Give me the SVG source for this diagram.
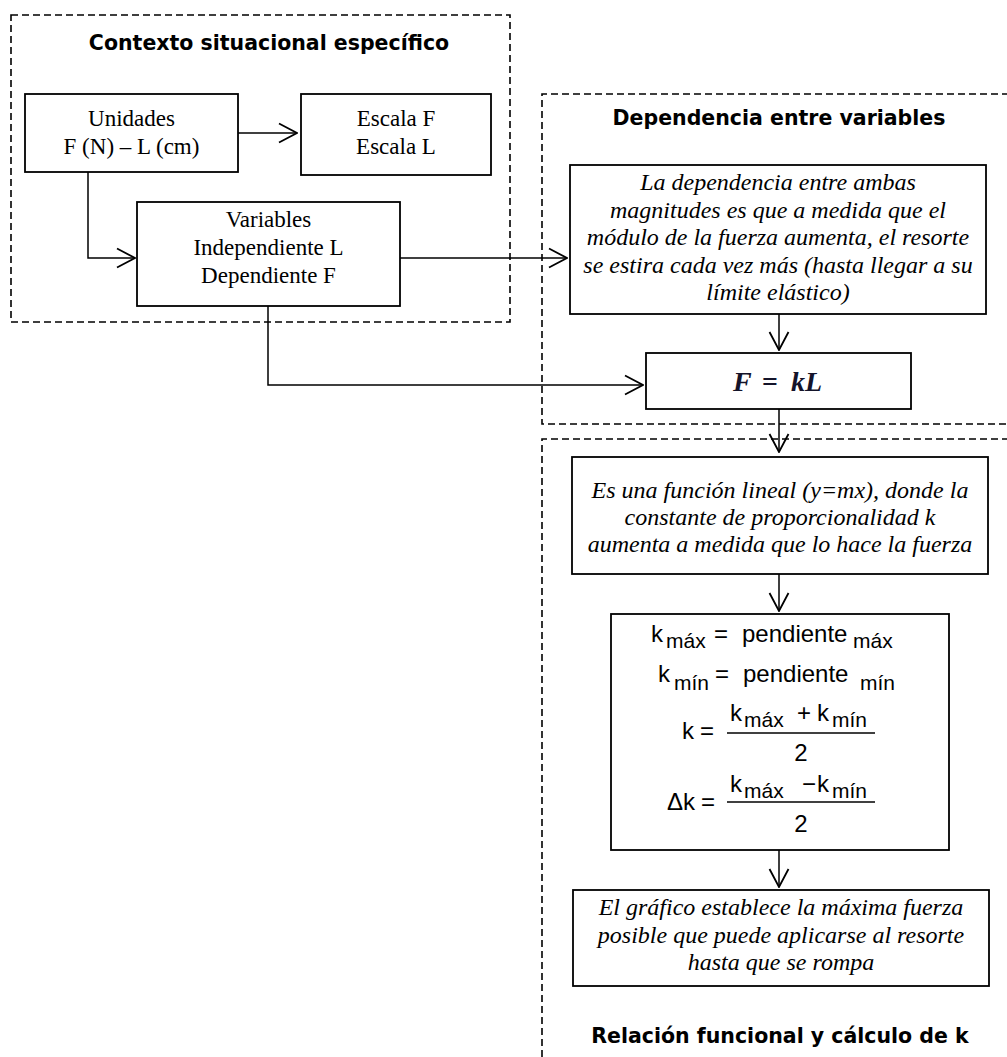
<svg xmlns="http://www.w3.org/2000/svg" width="1007" height="1057" viewBox="0 0 1007 1057">
  <style>
    .frame { fill: none; stroke: #000; stroke-width: 1.6; stroke-dasharray: 7 4; }
    .box { fill: #fff; stroke: #000; stroke-width: 1.8; }
    .title { font-family: "DejaVu Sans", Verdana, sans-serif; font-weight: bold; font-size: 20.5px; text-anchor: middle; fill: #000; }
    .tx { font-family: "Liberation Serif", "Times New Roman", serif; font-size: 23px; text-anchor: middle; fill: #000; }
    .it { font-style: italic; font-size: 24px; }
    .eq { font-family: "Liberation Sans", Arial, sans-serif; font-size: 24px; fill: #000; }
    .sub { font-family: "Liberation Sans", Arial, sans-serif; font-size: 21px; fill: #000; }
    .conn { fill: none; stroke: #000; stroke-width: 1.5; marker-end: url(#arrow); }
    .bar { stroke: #000; stroke-width: 1.3; }
    .law { font-family: "Liberation Serif", "Times New Roman", serif; font-weight: bold; font-size: 28px; fill: #14142a; }
  </style>
  <defs>
    <marker id="arrow" markerUnits="userSpaceOnUse" markerWidth="20" markerHeight="22" viewBox="0 0 20 22" refX="19" refY="11" orient="auto">
      <path d="M1,1.5 L19,11 L1,20.5" fill="none" stroke="#000" stroke-width="1.8"/>
    </marker>
  </defs>
  <rect width="1007" height="1057" fill="#fff"/>

  <!-- dashed group frames -->
  <g id="frames">
    <rect class="frame" x="11" y="15" width="499" height="307"/>
    <path class="frame" d="M1020,94 H542 V424 H1020"/>
    <path class="frame" d="M1020,439 H542 V1070"/>
    <text class="title" x="269" y="50">Contexto situacional específico</text>
    <text class="title" x="779" y="125">Dependencia entre variables</text>
    <text class="title" x="780" y="1043">Relación funcional y cálculo de k</text>
  </g>

  <!-- connectors -->
  <g id="connectors">
    <path class="conn" d="M238,133 H297"/>
    <path class="conn" d="M88,172 V258 H135"/>
    <path class="conn" d="M400,258 H567"/>
    <path class="conn" d="M268,306 V385 H643"/>
    <path class="conn" d="M779,314 V350"/>
    <path class="conn" d="M779,409 V452"/>
    <path class="conn" d="M779,574 V611"/>
    <path class="conn" d="M779,850 V887"/>
  </g>

  <g id="unidades">
    <rect class="box" x="25" y="94" width="213" height="78"/>
    <text class="tx" x="131.5" y="126">Unidades</text>
    <text class="tx" x="131.5" y="154">F (N) – L (cm)</text>
  </g>

  <g id="escala">
    <rect class="box" x="301" y="94" width="190" height="81"/>
    <text class="tx" x="396" y="126">Escala F</text>
    <text class="tx" x="396" y="154">Escala L</text>
  </g>

  <g id="variables">
    <rect class="box" x="137" y="202" width="263" height="104"/>
    <text class="tx" x="268.5" y="227">Variables</text>
    <text class="tx" x="268.5" y="255">Independiente L</text>
    <text class="tx" x="268.5" y="283">Dependiente F</text>
  </g>

  <g id="dependencia">
    <rect class="box" x="570" y="165" width="416" height="149"/>
    <text class="tx it" x="778" y="190">La dependencia entre ambas</text>
    <text class="tx it" x="778" y="217.5">magnitudes es que a medida que el</text>
    <text class="tx it" x="778" y="245">módulo de la fuerza aumenta, el resorte</text>
    <text class="tx it" x="778" y="272.5">se estira cada vez más (hasta llegar a su</text>
    <text class="tx it" x="778" y="300">límite elástico)</text>
  </g>

  <g id="ley">
    <rect class="box" x="646" y="353" width="265" height="56"/>
    <text class="law" x="733" y="391" font-style="italic">F</text>
    <text class="law" x="762" y="391">=</text>
    <text class="law" x="791" y="391" font-style="italic">kL</text>
  </g>

  <g id="funcion">
    <rect class="box" x="572" y="457" width="416" height="117"/>
    <text class="tx it" x="780" y="498">Es una función lineal (y=mx), donde la</text>
    <text class="tx it" x="780" y="525">constante de proporcionalidad k</text>
    <text class="tx it" x="780" y="552">aumenta a medida que lo hace la fuerza</text>
  </g>

  <g id="calculo">
    <rect class="box" x="611" y="614" width="338" height="236"/>
    <!-- k max -->
    <text class="eq" x="651" y="642">k</text>
    <text class="sub" x="666" y="648">máx</text>
    <text class="eq" x="714" y="642">=</text>
    <text class="eq" x="742" y="642">pendiente</text>
    <text class="sub" x="853" y="648">máx</text>
    <!-- k min -->
    <text class="eq" x="658" y="682">k</text>
    <text class="sub" x="674" y="690">mín</text>
    <text class="eq" x="715" y="682">=</text>
    <text class="eq" x="743" y="682">pendiente</text>
    <text class="sub" x="860" y="690">mín</text>
    <!-- mean value -->
    <text class="eq" x="682" y="739">k</text>
    <text class="eq" x="700" y="739">=</text>
    <text class="eq" x="730" y="721">k</text>
    <text class="sub" x="744" y="727">máx</text>
    <text class="eq" x="797" y="721">+</text>
    <text class="eq" x="817" y="721">k</text>
    <text class="sub" x="832" y="727">mín</text>
    <line class="bar" x1="727" y1="733" x2="875" y2="733"/>
    <text class="eq" x="801" y="761" text-anchor="middle">2</text>
    <!-- half range -->
    <text class="eq" x="667" y="810">Δk</text>
    <text class="eq" x="701" y="810">=</text>
    <text class="eq" x="730" y="792">k</text>
    <text class="sub" x="744" y="798">máx</text>
    <text class="eq" x="802" y="792">−</text>
    <text class="eq" x="817" y="792">k</text>
    <text class="sub" x="832" y="798">mín</text>
    <line class="bar" x1="727" y1="802" x2="875" y2="802"/>
    <text class="eq" x="801" y="832" text-anchor="middle">2</text>
  </g>

  <g id="grafico">
    <rect class="box" x="573" y="890" width="416" height="96"/>
    <text class="tx it" x="781" y="915">El gráfico establece la máxima fuerza</text>
    <text class="tx it" x="781" y="943">posible que puede aplicarse al resorte</text>
    <text class="tx it" x="781" y="970">hasta que se rompa</text>
  </g>
</svg>
